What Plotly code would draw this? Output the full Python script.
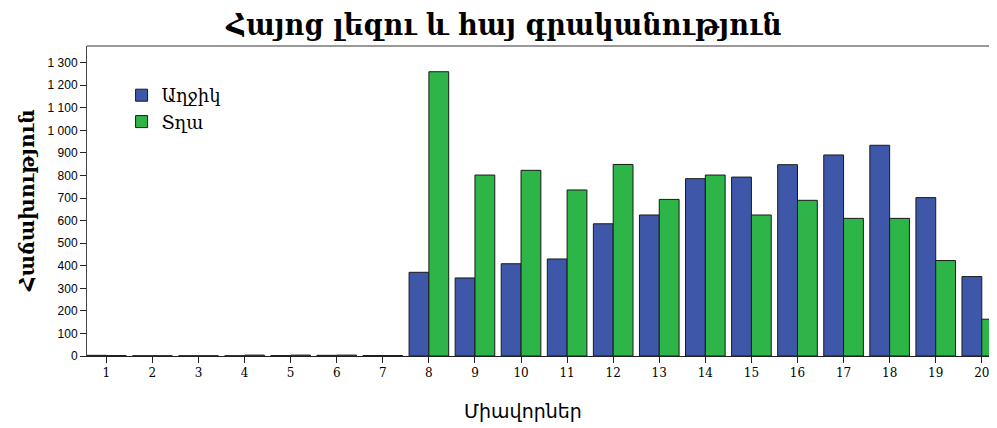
import plotly.graph_objects as go

categories = list(range(1, 21))
girls = [3, 1, 1, 1, 2, 3, 2, 371, 346, 409, 430, 586, 625, 786, 793, 848, 891, 934, 702, 352]
boys = [2, 1, 1, 4, 4, 4, 2, 1260, 802, 823, 736, 849, 694, 802, 625, 690, 610, 610, 423, 163]
series_names = ["Աղջիկ", "Տղա"]
ytick_vals = list(range(0, 1400, 100))

# the page body has an 8px margin; size the figure so it fits the 997x428 window
OFF = 8
W, H = 997 - OFF, 428 - OFF
ml, mr, mt, mb = 87 - OFF, 0, 46 - OFF, 72
pw, ph = W - ml - mr, H - mt - mb

fig = go.Figure()
fig.add_trace(go.Bar(x=categories, y=girls, name=series_names[0],
                     marker=dict(color="#3F57A9", line=dict(color="#1a1a1a", width=1))))
fig.add_trace(go.Bar(x=categories, y=boys, name=series_names[1],
                     marker=dict(color="#2EB547", line=dict(color="#1a1a1a", width=1))))

fig.update_layout(
    width=W, height=H,
    margin=dict(l=ml, r=mr, t=mt, b=mb, autoexpand=False),
    paper_bgcolor="white", plot_bgcolor="white",
    barmode="group", bargap=0.14, bargroupgap=0,
    separators=". ",
    title=dict(text="<b>Հայոց լեզու և հայ գրականություն</b>", x=(504 - OFF) / W, xanchor="center",
               y=1 - (24 - OFF) / H, yanchor="middle",
               font=dict(family="DejaVu Serif Condensed, DejaVu Serif", size=30, color="black")),
    legend=dict(x=0.038, y=0.90, xanchor="left", yanchor="top",
                font=dict(family="DejaVu Serif", size=18, color="black"),
                bgcolor="rgba(0,0,0,0)", itemwidth=30, tracegroupgap=2),
    xaxis=dict(range=[0.58, 20.33], tickvals=categories, ticks="outside", ticklen=6,
               tickcolor="#222", showline=True, linecolor="#222", mirror=False,
               tickfont=dict(family="DejaVu Serif", size=12, color="black"),
               showgrid=False, zeroline=False, automargin=False),
    yaxis=dict(range=[0, 1374], tickvals=ytick_vals, tickformat=",d", ticks="outside",
               ticklen=6, tickcolor="#222", showline=True, linecolor="#444",
               tickfont=dict(family="Liberation Sans", size=12, color="black"),
               showgrid=False, zeroline=False, automargin=False),
    annotations=[
        dict(text="Միավորներ", xref="paper", yref="paper",
             x=(523 - OFF - ml) / pw, y=-(411 - OFF - (H - mb)) / ph,
             xanchor="center", yanchor="middle", showarrow=False,
             font=dict(family="DejaVu Sans", size=19, color="black")),
        dict(text="<b>Հաճախություն</b>", xref="paper", yref="paper",
             x=-(ml - (27 - OFF)) / pw, y=0.5, textangle=-90,
             xanchor="center", yanchor="middle", showarrow=False,
             font=dict(family="DejaVu Serif", size=20, color="black")),
    ],
    shapes=[dict(type="line", xref="paper", yref="paper", x0=0, x1=1, y0=1, y1=1,
                 line=dict(color="#999", width=2))],
)

fig.write_html("out.html")
